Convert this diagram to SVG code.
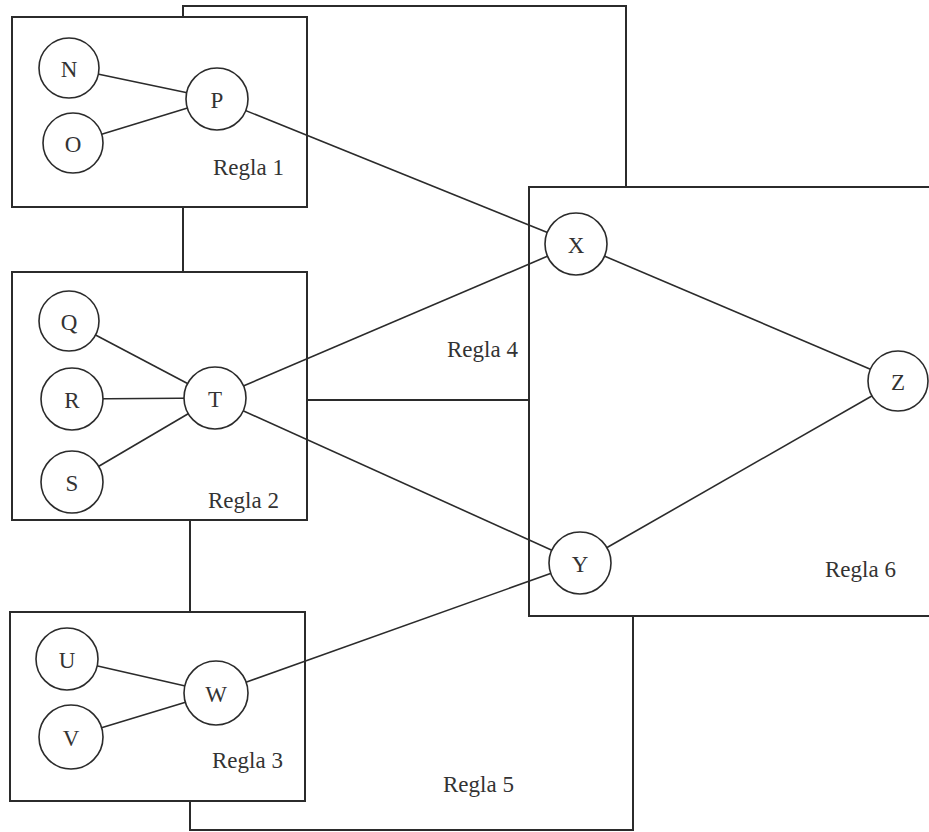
<svg xmlns="http://www.w3.org/2000/svg" width="929" height="832" viewBox="0 0 929 832">
<style>
.frame{fill:none;stroke:#2b2b2b;stroke-width:2}
.box{fill:#fff;stroke:#2b2b2b;stroke-width:2}
.node{fill:#fff;stroke:#2b2b2b;stroke-width:1.6}
.edge{stroke:#2b2b2b;stroke-width:1.6;fill:none}
text{font-family:"Liberation Serif","Times New Roman",serif;font-size:23px;fill:#333}
.lbl{text-anchor:middle;dominant-baseline:central}
</style>
<rect width="929" height="832" fill="#fff"/>
<g id="regla4"><rect class="frame" x="183" y="6" width="443" height="394"/><text x="447" y="357">Regla 4</text></g>
<g id="regla5"><rect class="frame" x="190" y="400" width="443" height="430"/><text x="443" y="792">Regla 5</text></g>
<g id="regla1"><rect class="box" x="12" y="17" width="295" height="190"/><text x="213" y="175">Regla 1</text></g>
<g id="regla2"><rect class="box" x="12" y="272" width="295" height="248"/><text x="208" y="508">Regla 2</text></g>
<g id="regla3"><rect class="box" x="10" y="612" width="295" height="189"/><text x="212" y="768">Regla 3</text></g>
<g id="regla6"><rect class="box" x="529" y="187" width="420" height="429"/><text x="825" y="577">Regla 6</text></g>
<g id="connectors">
<line class="edge" x1="69" y1="68" x2="217" y2="99"/>
<line class="edge" x1="73" y1="143" x2="217" y2="99"/>
<line class="edge" x1="217" y1="99" x2="576" y2="244"/>
<line class="edge" x1="69" y1="321" x2="215" y2="398"/>
<line class="edge" x1="72" y1="399" x2="215" y2="398"/>
<line class="edge" x1="72" y1="482" x2="215" y2="398"/>
<line class="edge" x1="215" y1="398" x2="576" y2="244"/>
<line class="edge" x1="215" y1="398" x2="580" y2="563"/>
<line class="edge" x1="67" y1="659" x2="216" y2="693"/>
<line class="edge" x1="71" y1="737" x2="216" y2="693"/>
<line class="edge" x1="216" y1="693" x2="580" y2="563"/>
<line class="edge" x1="576" y1="244" x2="898" y2="381"/>
<line class="edge" x1="580" y1="563" x2="898" y2="381"/>
</g>
<g id="N"><circle class="node" cx="69" cy="68" r="30"/><text class="lbl" x="69" y="69">N</text></g>
<g id="O"><circle class="node" cx="73" cy="143" r="30"/><text class="lbl" x="73" y="144">O</text></g>
<g id="P"><circle class="node" cx="217" cy="99" r="31"/><text class="lbl" x="217" y="100">P</text></g>
<g id="Q"><circle class="node" cx="69" cy="321" r="30"/><text class="lbl" x="69" y="322">Q</text></g>
<g id="R"><circle class="node" cx="72" cy="399" r="31"/><text class="lbl" x="72" y="400">R</text></g>
<g id="S"><circle class="node" cx="72" cy="482" r="31"/><text class="lbl" x="72" y="483">S</text></g>
<g id="T"><circle class="node" cx="215" cy="398" r="31"/><text class="lbl" x="215" y="399">T</text></g>
<g id="U"><circle class="node" cx="67" cy="659" r="31"/><text class="lbl" x="67" y="660">U</text></g>
<g id="V"><circle class="node" cx="71" cy="737" r="32"/><text class="lbl" x="71" y="738">V</text></g>
<g id="W"><circle class="node" cx="216" cy="693" r="32"/><text class="lbl" x="216" y="694">W</text></g>
<g id="X"><circle class="node" cx="576" cy="244" r="31"/><text class="lbl" x="576" y="245">X</text></g>
<g id="Y"><circle class="node" cx="580" cy="563" r="31"/><text class="lbl" x="580" y="564">Y</text></g>
<g id="Z"><circle class="node" cx="898" cy="381" r="30"/><text class="lbl" x="898" y="382">Z</text></g>
</svg>
